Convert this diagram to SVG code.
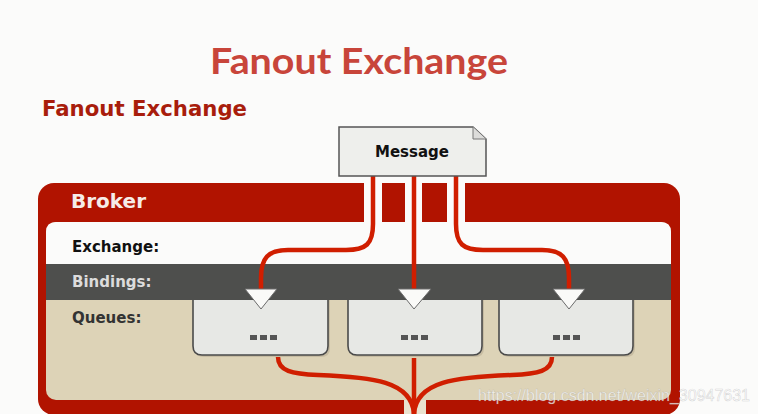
<svg xmlns="http://www.w3.org/2000/svg" width="758" height="414" viewBox="0 0 758 414">
<defs>
<style>
.lbl{font-family:"DejaVu Sans",Verdana,sans-serif;font-weight:bold}
.wire{fill:none;stroke:#d01e00;stroke-width:4.5}
.tri{fill:#fafaf8;stroke:#6a6a6a;stroke-width:1}
.q{fill:#e7e8e5;stroke:#4a4a4a;stroke-width:1.6}
.qs{fill:#b9ae94;opacity:0.6}
.dot{fill:#555}
.gap{fill:#fbfbfa}
</style>
</defs>
<rect width="758" height="414" fill="#fbfbfa"/>
<text x="359" y="74" text-anchor="middle" font-family="Lato,'Open Sans',sans-serif" font-weight="bold" font-size="37" fill="#c8453a" textLength="298" lengthAdjust="spacingAndGlyphs">Fanout Exchange</text>
<text x="42" y="116" class="lbl" font-size="21" fill="#a81d0c" textLength="205" lengthAdjust="spacingAndGlyphs">Fanout Exchange</text>

<g id="broker">
<rect x="38" y="183" width="642" height="232" rx="16" fill="#b11300"/>
<rect x="46" y="222" width="625" height="178" rx="10" fill="#ddd3b7"/>
<path d="M46,264 V232 Q46,222 56,222 H661 Q671,222 671,232 V264 Z" fill="#fbfbfa"/>
<rect x="46" y="264" width="625" height="36" fill="#4e4f4d"/>
<rect class="gap" x="364" y="183" width="18" height="39"/>
<rect class="gap" x="405" y="183" width="17" height="39"/>
<rect class="gap" x="447" y="183" width="18" height="39"/>
<rect x="404" y="400" width="22" height="14" fill="#e9e2cf"/>
<text x="71" y="208" class="lbl" font-size="20" fill="#f6ece8">Broker</text>
<text x="72" y="252" class="lbl" font-size="15" fill="#111">Exchange:</text>
<text x="72" y="287" class="lbl" font-size="15" fill="#dcdcdc">Bindings:</text>
<text x="72" y="323" class="lbl" font-size="15" fill="#333">Queues:</text>
</g>

<g id="queue1">
<path class="qs" d="M195,300 V348 Q195,357 204,357 H321 Q330,357 330,348 V300 Z"/>
<path class="q" d="M193,300 V346 Q193,355 202,355 H319 Q328,355 328,346 V300"/>
<rect class="dot" x="250" y="335" width="7" height="5"/><rect class="dot" x="260" y="335" width="7" height="5"/><rect class="dot" x="270" y="335" width="7" height="5"/>
</g>
<g id="queue2">
<path class="qs" d="M350,300 V348 Q350,357 359,357 H475 Q484,357 484,348 V300 Z"/>
<path class="q" d="M348,300 V346 Q348,355 357,355 H473 Q482,355 482,346 V300"/>
<rect class="dot" x="401" y="335" width="7" height="5"/><rect class="dot" x="411" y="335" width="7" height="5"/><rect class="dot" x="421" y="335" width="7" height="5"/>
</g>
<g id="queue3">
<path class="qs" d="M501,300 V348 Q501,357 510,357 H626 Q635,357 635,348 V300 Z"/>
<path class="q" d="M499,300 V346 Q499,355 508,355 H624 Q633,355 633,346 V300"/>
<rect class="dot" x="553" y="335" width="7" height="5"/><rect class="dot" x="563" y="335" width="7" height="5"/><rect class="dot" x="573" y="335" width="7" height="5"/>
</g>

<g id="connectors">
<path class="wire" d="M373,176 V224 C373,244 366,250 346,250 H288 C268,250 261,258 261,278 V292"/>
<path class="wire" d="M414,176 V292"/>
<path class="wire" d="M456,176 V224 C456,244 463,250 483,250 H542 C562,250 569,258 569,278 V292"/>
<path class="wire" d="M278,357 C278,371 292,374 318,375 C372,377 412,381 414,414"/>
<path class="wire" d="M414,358 V414"/>
<path class="wire" d="M552,357 C552,371 538,374 512,375 C456,377 416,381 414,414"/>
<polygon class="tri" points="245,289 277,289 261,309"/>
<polygon class="tri" points="398,289 431,289 414,309"/>
<polygon class="tri" points="553,289 585,289 569,309"/>
</g>

<g id="message">
<path d="M339,127 H473 L486,139 V176 H339 Z" fill="#eeefec" stroke="#555" stroke-width="1.5"/>
<path d="M473,127 V139 H486" fill="#dcdcda" stroke="#777" stroke-width="1"/>
<text x="412" y="157" class="lbl" font-size="15" fill="#111" text-anchor="middle">Message</text>
</g>

<text x="478" y="401" font-family="'Liberation Sans',Arial,sans-serif" font-size="17" fill="#ffffff" fill-opacity="0.75" stroke="#8a8a8a" stroke-opacity="0.35" stroke-width="0.6" textLength="272" lengthAdjust="spacingAndGlyphs">https://blog.csdn.net/weixin_30947631</text>
</svg>
